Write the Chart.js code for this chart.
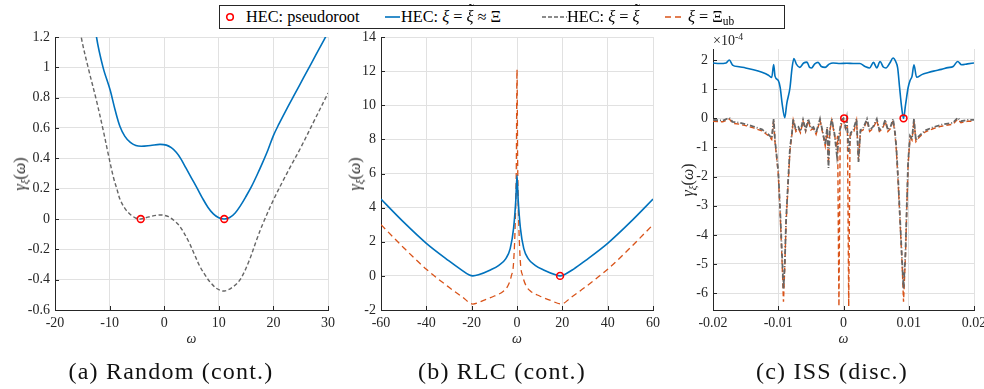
<!DOCTYPE html>
<html>
<head>
<meta charset="utf-8">
<script src="https://cdn.jsdelivr.net/npm/chart.js@4"></script>
<style>
  html, body { margin: 0; padding: 0; background: #fff; }
  body { width: 984px; height: 389px; position: relative; overflow: hidden; font-family: 'Liberation Serif', serif; color: #262626; }
  canvas { position: absolute; top: 0; }
  .lbl { position: absolute; white-space: nowrap; }
  .leg { position: absolute; top: 5px; height: 24px; line-height: 24px; font-size: 16.3px; white-space: nowrap; color: #000; }
  .tl { position: relative; display: inline-block; }
  .tl::after { content: '\02DC'; position: absolute; left: 0.12em; top: -0.42em; font-style: normal; }
  .ylab { position: absolute; font-size: 16px; white-space: nowrap; transform: translate(-50%, -50%) rotate(-90deg); }
  .cap { position: absolute; top: 358px; font-size: 24px; letter-spacing: 1.2px; transform: translateX(-50%); white-space: nowrap; color: #111; }
  sub { font-size: 70%; vertical-align: -0.25em; line-height: 0; }
  sup { font-size: 70%; vertical-align: 0.55em; line-height: 0; }
</style>
</head>
<body>
<canvas id="chartA" width="340" height="389" style="left:0px"></canvas>
<canvas id="chartB" width="330" height="389" style="left:340px"></canvas>
<canvas id="chartC" width="330" height="389" style="left:670px"></canvas>

<!-- shared legend -->
<div style="position:absolute;left:219px;top:5px;width:564px;height:22px;border:1px solid #262626;background:#fff"></div>
<svg style="position:absolute;left:225px;top:12px" width="10" height="10"><circle cx="5" cy="5" r="3.3" fill="none" stroke="#ff0000" stroke-width="1.6"/></svg>
<div class="leg" style="left:246px">HEC: pseudoroot</div>
<svg style="position:absolute;left:385px;top:15px" width="16" height="4"><line x1="0" y1="2" x2="15" y2="2" stroke="#0072bd" stroke-width="1.6"/></svg>
<div class="leg" style="left:401px">HEC: <i>ξ</i> = <i class="tl">ξ</i> ≈ Ξ</div>
<svg style="position:absolute;left:542px;top:15px" width="26" height="4"><line x1="0" y1="2" x2="25" y2="2" stroke="#666" stroke-width="1.4" stroke-dasharray="4,2"/></svg>
<div class="leg" style="left:567px">HEC: <i>ξ</i> = <i class="tl">ξ</i></div>
<svg style="position:absolute;left:665px;top:15px" width="21" height="4"><line x1="0" y1="2" x2="20" y2="2" stroke="#d95319" stroke-width="1.4" stroke-dasharray="6,4"/></svg>
<div class="leg" style="left:688px"><i>ξ</i> = Ξ<sub>ub</sub></div>

<!-- axis labels and captions -->
<div class="ylab" style="left:20px;top:174px"><i>γ</i><sub><i>ξ</i></sub>(<i>ω</i>)</div>
<div class="ylab" style="left:355px;top:174px"><i>γ</i><sub><i>ξ</i></sub>(<i>ω</i>)</div>
<div class="ylab" style="left:688px;top:180px"><i>γ</i><sub><i>ξ</i></sub>(<i>ω</i>)</div>
<div class="lbl" style="left:713px;top:33px;font-size:14px">×10<sup>-4</sup></div>
<div class="cap" style="left:171px">(a) Random (cont.)</div>
<div class="cap" style="left:502px">(b) RLC (cont.)</div>
<div class="cap" style="left:832px">(c) ISS (disc.)</div>

<script>
// (a) Random (cont.)
const randomXTicks = [-20, -10, 0, 10, 20, 30];
const randomYTicks = [-0.6, -0.4, -0.2, 0, 0.2, 0.4, 0.6, 0.8, 1, 1.2];
const randomRoots = [[-4.3, 0], [11, 0]];
const randomApprox = [
  [-13.4, 1.5], [-12.4, 1.2], [-11.2, 1.0], [-9.9, 0.85], [-9.0, 0.72], [-8.1, 0.61], [-7.2, 0.545],
  [-6.2, 0.505], [-5.2, 0.485], [-4.2, 0.48], [-2.5, 0.485], [-0.8, 0.492], [0.4, 0.487], [1.3, 0.47],
  [2.2, 0.44], [3.0, 0.40], [4.0, 0.335], [5.0, 0.27], [6.0, 0.205], [7.0, 0.138], [8.0, 0.078],
  [9.0, 0.034], [10.0, 0.008], [11, 0], [12, 0.01], [13, 0.04], [14, 0.09], [15, 0.15], [16, 0.215],
  [17, 0.29], [18, 0.37], [19, 0.455], [20, 0.55], [21, 0.625], [22.5, 0.73], [24, 0.83],
  [25.5, 0.93], [27, 1.03], [28.5, 1.13], [30, 1.23]
];
const randomExact = [
  [-16.2, 1.45], [-15.2, 1.2], [-13.8, 0.98], [-12.4, 0.78], [-11.2, 0.59], [-10.2, 0.42], [-9.3, 0.275],
  [-8.6, 0.19], [-8.1, 0.13], [-7.2, 0.07], [-6.3, 0.033], [-5.3, 0.008], [-4.3, 0], [-3.0, 0.012],
  [-1.5, 0.024], [-0.3, 0.026], [0.8, 0.015], [1.8, -0.01], [2.9, -0.05], [4.5, -0.15], [5.5, -0.23],
  [6.5, -0.31], [7.5, -0.37], [8.5, -0.42], [9.7, -0.46], [11, -0.475], [12.5, -0.45], [13.9, -0.4],
  [15.5, -0.28], [17, -0.13], [18.2, -0.02], [20, 0.125], [21.8, 0.255], [23.5, 0.37], [25, 0.47],
  [27.5, 0.65], [30, 0.83]
];

// (b) RLC (cont.)
const rlcXTicks = [-60, -40, -20, 0, 20, 40, 60];
const rlcYTicks = [-2, 0, 2, 4, 6, 8, 10, 12, 14];
const rlcRoots = [[19, 0]];
const rlcApprox = [
  [-60, 4.5], [-50, 3.15], [-40, 1.91], [-30, 0.88], [-25, 0.4], [-21, 0.05], [-19.5, 0], [-17, 0.06],
  [-12, 0.33], [-8, 0.62], [-5, 1.0], [-3, 1.6], [-1.5, 2.8], [-0.5, 4.5], [0, 5.9], [0.5, 4.5],
  [1.5, 2.8], [3, 1.6], [5, 1.0], [8, 0.62], [12, 0.33], [17, 0.06], [19, 0], [20.5, 0.05],
  [25, 0.4], [30, 0.88], [40, 1.91], [50, 3.15], [60, 4.5]
];
const rlcUpper = [
  [-60, 3.0], [-50, 1.65], [-40, 0.39], [-30, -0.67], [-24, -1.25], [-19.5, -1.65], [-15, -1.45],
  [-10, -1.18], [-6, -0.9], [-4, -0.58], [-2.5, 0.0], [-1.5, 0.8], [-0.7, 3.5], [-0.3, 6.5], [0, 12.1],
  [0.3, 6.5], [0.7, 3.5], [1.5, 0.8], [2.5, 0.0], [4, -0.58], [6, -0.9], [10, -1.18], [15, -1.45],
  [19.5, -1.65], [24, -1.25], [30, -0.67], [40, 0.39], [50, 1.65], [60, 3.0]
];

// (c) ISS (disc.), values in units of 1e-4
const issXTicks = [-0.02, -0.01, 0, 0.01, 0.02];
const issYTicks = [-6, -5, -4, -3, -2, -1, 0, 1, 2];
const issRoots = [[0.0001, 0], [0.0092, 0]];
const issApprox = [
  [-0.0200, 1.9], [-0.0190, 1.88], [-0.0180, 1.9], [-0.0175, 2.0], [-0.0170, 1.83], [-0.0160, 1.77],
  [-0.0150, 1.73], [-0.0138, 1.67], [-0.0125, 1.58], [-0.0115, 1.48], [-0.0110, 1.4], [-0.0107, 1.85],
  [-0.0105, 1.45], [-0.0100, 1.3], [-0.0097, 1.05], [-0.0094, 0.5], [-0.0090, 0.02], [-0.0087, 0.5],
  [-0.0082, 1.05], [-0.0079, 1.7], [-0.0076, 2.05], [-0.0072, 1.85], [-0.0067, 1.75], [-0.0061, 1.9],
  [-0.0056, 1.93], [-0.0052, 1.75], [-0.0049, 1.73], [-0.0044, 1.87], [-0.0039, 1.92], [-0.0034, 1.78],
  [-0.0028, 1.75], [-0.0022, 1.86], [-0.0016, 1.9], [-0.0005, 1.88], [0.0005, 1.89], [0.0015, 1.88],
  [0.0025, 1.88], [0.0033, 1.78], [0.0040, 1.73], [0.0046, 1.92], [0.0051, 1.73], [0.0056, 1.95],
  [0.0061, 1.76], [0.0065, 1.73], [0.0071, 1.9], [0.0076, 2.07], [0.0080, 1.95], [0.0083, 1.73],
  [0.0086, 1.05], [0.0089, 0.4], [0.0092, 0.0], [0.0095, 0.45], [0.0099, 1.05], [0.0102, 1.3],
  [0.0105, 1.44], [0.0108, 1.84], [0.0112, 1.41], [0.0120, 1.5], [0.0130, 1.57], [0.0138, 1.62],
  [0.0150, 1.68], [0.0160, 1.74], [0.0168, 1.78], [0.0175, 1.95], [0.0181, 1.84], [0.0190, 1.87],
  [0.0200, 1.9]
];
const issExact = [
  [-0.0200, -0.05], [-0.0185, -0.08], [-0.0175, 0.02], [-0.0170, -0.12], [-0.0160, -0.15], [-0.0150, -0.2],
  [-0.0138, -0.28], [-0.0125, -0.38], [-0.0115, -0.55], [-0.0110, -0.68], [-0.0107, -0.02], [-0.0105, -0.75],
  [-0.0100, -1.8], [-0.0097, -3.2], [-0.0094, -4.8], [-0.0092, -5.85], [-0.0090, -5.0], [-0.0088, -3.5],
  [-0.0085, -2.2], [-0.0082, -1.0], [-0.0079, -0.5], [-0.0077, -0.02], [-0.0073, -0.4], [-0.0069, -0.3],
  [-0.0066, -0.45], [-0.0062, -0.05], [-0.0058, -0.4], [-0.0054, -0.02], [-0.0050, -0.35], [-0.0046, -0.3],
  [-0.0042, -0.5], [-0.0036, -0.02], [-0.0032, -0.45], [-0.0028, -0.9], [-0.0025, -0.3], [-0.0023, -1.7],
  [-0.0021, -0.4], [-0.0018, -0.02], [-0.0014, -0.5], [-0.0010, -1.3], [-0.0007, -0.6], [-0.0003, -0.05],
  [0.0000, 0.0], [0.0003, -0.3], [0.0005, -0.02], [0.0008, -1.15], [0.0011, -0.5], [0.0015, -0.4],
  [0.0020, -0.02], [0.0023, -1.5], [0.0026, -0.4], [0.0030, -0.35], [0.0036, -0.02], [0.0040, -0.4],
  [0.0045, -0.3], [0.0051, -0.02], [0.0055, -0.4], [0.0060, -0.3], [0.0064, -0.05], [0.0068, -0.4],
  [0.0072, -0.3], [0.0076, -0.02], [0.0079, -0.5], [0.0081, -1.0], [0.0084, -2.2], [0.0087, -3.6],
  [0.0090, -5.0], [0.0092, -5.85], [0.0095, -4.6], [0.0097, -3.0], [0.0099, -1.5], [0.0102, -0.6],
  [0.0105, -0.7], [0.0108, -0.02], [0.0111, -0.75], [0.0116, -0.6], [0.0125, -0.42], [0.0138, -0.3],
  [0.0150, -0.22], [0.0160, -0.18], [0.0168, -0.15], [0.0175, 0.02], [0.0180, -0.1], [0.0190, -0.05],
  [0.0200, -0.05]
];
const issUpper = [
  [-0.0200, -0.1], [-0.0185, -0.12], [-0.0175, -0.02], [-0.0170, -0.17], [-0.0160, -0.2], [-0.0150, -0.25],
  [-0.0138, -0.33], [-0.0125, -0.43], [-0.0115, -0.6], [-0.0110, -0.73], [-0.0107, -0.08], [-0.0105, -0.8],
  [-0.0100, -1.9], [-0.0097, -3.3], [-0.0094, -5.0], [-0.0092, -6.3], [-0.0090, -5.1], [-0.0088, -3.6],
  [-0.0085, -2.3], [-0.0082, -1.1], [-0.0079, -0.55], [-0.0077, -0.07], [-0.0073, -0.45], [-0.0069, -0.35],
  [-0.0066, -0.5], [-0.0062, -0.1], [-0.0058, -0.45], [-0.0054, -0.07], [-0.0050, -0.4], [-0.0046, -0.35],
  [-0.0042, -0.55], [-0.0036, -0.07], [-0.0032, -0.5], [-0.0028, -0.95], [-0.0025, -0.35], [-0.0023, -1.55],
  [-0.0021, -0.45], [-0.0018, -0.07], [-0.0014, -0.55], [-0.0011, -0.9], [-0.0009, -0.6], [-0.0007, -6.45],
  [-0.0005, -0.4], [-0.0002, -0.1], [0.0000, -0.05], [0.0003, -0.35], [0.0006, -0.3], [0.0008, -6.45],
  [0.0010, -0.6], [0.0013, -0.5], [0.0016, -0.45], [0.0020, -0.07], [0.0023, -1.45], [0.0026, -0.45],
  [0.0030, -0.4], [0.0036, -0.07], [0.0040, -0.45], [0.0045, -0.35], [0.0051, -0.07], [0.0055, -0.45],
  [0.0060, -0.35], [0.0064, -0.1], [0.0068, -0.45], [0.0072, -0.35], [0.0076, -0.07], [0.0079, -0.55],
  [0.0081, -1.1], [0.0084, -2.3], [0.0087, -3.7], [0.0090, -5.1], [0.0092, -6.3], [0.0095, -4.7],
  [0.0097, -3.1], [0.0099, -1.6], [0.0102, -0.65], [0.0105, -0.75], [0.0108, -0.08], [0.0111, -0.8],
  [0.0116, -0.65], [0.0125, -0.47], [0.0138, -0.35], [0.0150, -0.27], [0.0160, -0.23], [0.0168, -0.2],
  [0.0175, -0.03], [0.0180, -0.15], [0.0190, -0.1], [0.0200, -0.1]
];

const BLUE = '#0072bd';
const GRAY = '#666666';
const ORANGE = '#d95319';
const INK = '#262626';
const FONT = "'Liberation Serif', 'Times New Roman', serif";

const toXY = arr => arr.map(([x, y]) => ({ x, y }));

// MATLAB style: small tick marks pointing into the plot
const innerTicks = {
  id: 'innerTicks',
  afterDraw(chart) {
    const { ctx, chartArea, scales: { x, y } } = chart;
    ctx.save();
    ctx.strokeStyle = INK;
    ctx.lineWidth = 1;
    ctx.beginPath();
    x.ticks.forEach(t => {
      const px = Math.round(x.getPixelForValue(t.value)) + 0.5;
      ctx.moveTo(px, chartArea.bottom);
      ctx.lineTo(px, chartArea.bottom - 4);
    });
    y.ticks.forEach(t => {
      const py = Math.round(y.getPixelForValue(t.value)) + 0.5;
      ctx.moveTo(chartArea.left, py);
      ctx.lineTo(chartArea.left + 4, py);
    });
    ctx.stroke();
    ctx.restore();
  }
};

function axis(min, max, ticks, fmt, size, isX) {
  const opts = {
    type: 'linear',
    min: min,
    max: max,
    afterBuildTicks: s => { s.ticks = ticks.map(v => ({ value: v })); },
    ticks: {
      font: { family: FONT, size: 14 },
      color: INK,
      padding: 5,
      autoSkip: false,
      maxRotation: 0,
      callback: v => fmt(v)
    },
    grid: { color: '#e1e1e1', drawTicks: false },
    border: { color: INK, width: 1 }
  };
  if (isX) {
    opts.title = { display: true, text: 'ω', color: INK, padding: 0, font: { family: FONT, size: 14, style: 'italic' } };
    opts.afterFit = s => { s.height = size; };
  } else {
    opts.afterFit = s => { s.width = size; };
  }
  return opts;
}

function rootSet(arr) {
  return {
    data: toXY(arr), showLine: false, order: 0,
    pointRadius: 3.4, pointBorderWidth: 1.6, pointBorderColor: '#ff0000', pointBackgroundColor: 'rgba(0,0,0,0)'
  };
}

// smooth: 'bezier' -> tension curve, 'monotone' -> monotone cubic, otherwise straight segments
function lineSet(arr, color, width, dash, order, smooth) {
  return {
    data: toXY(arr), borderColor: color, borderWidth: width, borderDash: dash, order: order,
    pointRadius: 0, fill: false,
    cubicInterpolationMode: smooth === 'monotone' ? 'monotone' : 'default',
    tension: smooth === 'bezier' ? 0.35 : 0
  };
}

function makeChart(id, datasets, xAxis, yAxis, pad) {
  return new Chart(document.getElementById(id), {
    type: 'line',
    data: { datasets: datasets },
    options: {
      responsive: false,
      animation: false,
      layout: { padding: pad },
      plugins: { legend: { display: false }, tooltip: { enabled: false } },
      scales: { x: xAxis, y: yAxis }
    },
    plugins: [innerTicks]
  });
}

const fmt1 = v => String(+v.toFixed(2));

makeChart('chartA', [
  rootSet(randomRoots),
  lineSet(randomApprox, BLUE, 1.6, [], 1, 'bezier'),
  lineSet(randomExact, GRAY, 1.4, [4, 2.5], 2, 'bezier')
], axis(-20, 30, randomXTicks, fmt1, 38, true),
   axis(-0.6, 1.2, randomYTicks, fmt1, 55, false),
   { left: 0, right: 12, top: 37, bottom: 41 });

makeChart('chartB', [
  rootSet(rlcRoots),
  lineSet(rlcApprox, BLUE, 1.6, [], 1, 'monotone'),
  lineSet(rlcUpper, ORANGE, 1.3, [6, 4], 3, 'monotone')
], axis(-60, 60, rlcXTicks, fmt1, 38, true),
   axis(-2, 14, rlcYTicks, fmt1, 41, false),
   { left: 0, right: 17, top: 37, bottom: 41 });

makeChart('chartC', [
  rootSet(issRoots),
  lineSet(issApprox, BLUE, 1.6, [], 1, 'monotone'),
  lineSet(issExact, GRAY, 1.8, [5, 2, 1, 2], 2, 'none'),
  lineSet(issUpper, ORANGE, 1.4, [5, 3], 3, 'none')
], axis(-0.02, 0.02, issXTicks, v => String(+v.toFixed(3)), 38, true),
   axis(-6.58, 2.38, issYTicks, fmt1, 43, false),
   { left: 0, right: 26, top: 49, bottom: 41 });
</script>
</body>
</html>
